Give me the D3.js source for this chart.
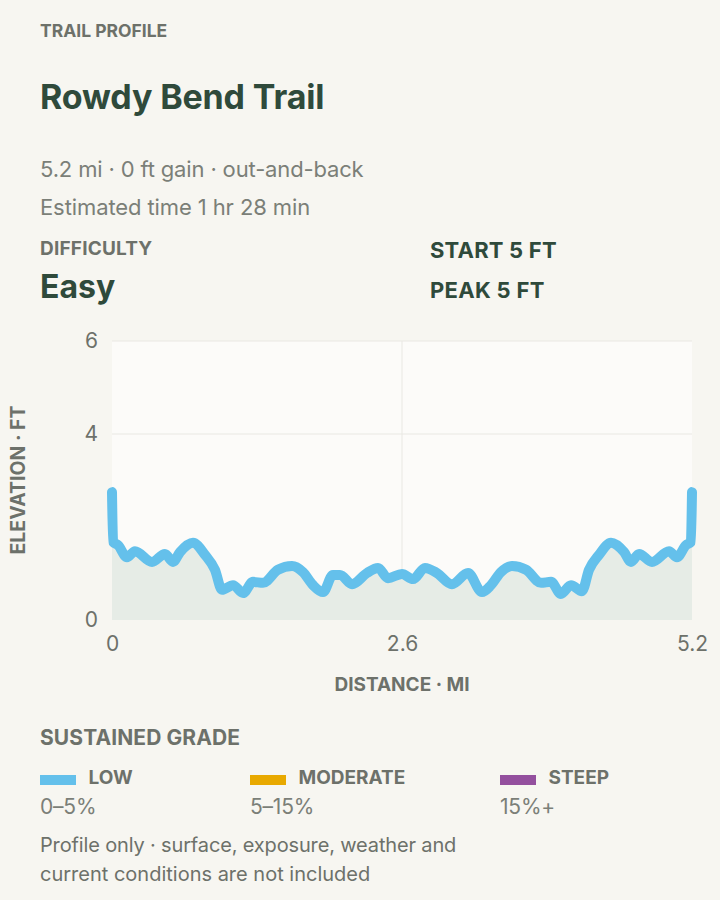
<!DOCTYPE html>
<html><head><meta charset="utf-8">
<script src="https://cdn.jsdelivr.net/npm/d3@7"></script>
<style>
html,body{margin:0;padding:0;background:#f7f6f1;}
svg{display:block;font-family:Inter,"Noto Sans",sans-serif;}
</style></head>
<body><svg id="c" width="720" height="900"></svg>
<script>
// Data
const distanceMi = [0,0.01,0.054,0.134,0.206,0.359,0.475,0.547,0.61,0.726,0.834,0.923,0.986,1.085,1.175,1.264,1.354,1.488,1.614,1.712,1.802,1.892,1.981,2.044,2.152,2.286,2.385,2.474,2.6,2.699,2.806,2.914,3.048,3.192,3.317,3.398,3.487,3.586,3.712,3.846,3.936,4.025,4.115,4.213,4.277,4.366,4.474,4.591,4.653,4.725,4.841,4.994,5.065,5.146,5.19,5.2];
const elevationFt = [2.75,1.68,1.61,1.35,1.48,1.25,1.42,1.25,1.46,1.66,1.40,1.08,0.65,0.75,0.58,0.82,0.80,1.08,1.16,1.03,0.75,0.60,0.97,0.97,0.77,1.01,1.12,0.90,0.99,0.88,1.12,1.01,0.77,1.01,0.60,0.75,1.03,1.16,1.08,0.80,0.82,0.56,0.75,0.62,1.08,1.40,1.66,1.46,1.25,1.42,1.25,1.48,1.35,1.61,1.68,2.75];
const xTicks = [0, 2.6, 5.2];
const xTickLabels = ["0", "2.6", "5.2"];
const yTicks = [0, 4, 6];
const gradeLabels = ["LOW", "MODERATE", "STEEP"];
const gradeRanges = ["0–5%", "5–15%", "15%+"];
const gradeColors = ["#64c0eb", "#e8a900", "#94509e"];

const svg = d3.select("#c");
const dark = "#2f4a3b", muted = "#6d716a", soft = "#7b7f78";

function txt(x, y, s, size, weight, fill, ls) {
  return svg.append("text").attr("x",x).attr("y",y).attr("fill",fill)
    .attr("font-weight",weight).attr("font-size",size).attr("letter-spacing",ls).text(s);
}

// Header
txt(40, 37, "TRAIL PROFILE", 17.5, 700, muted, 0);
txt(40, 109, "Rowdy Bend Trail", 34, 700, dark, -0.15);
txt(40, 177, "5.2 mi · 0 ft gain · out-and-back", 22, 400, soft, -0.15);
txt(40, 215, "Estimated time 1 hr 28 min", 22, 400, soft, -0.1);
txt(40, 255, "DIFFICULTY", 19, 700, muted, 0.2);
txt(40, 298, "Easy", 32, 700, dark, 0);
txt(430, 258, "START 5 FT", 22, 700, dark, 0.2);
txt(430, 298, "PEAK 5 FT", 22, 700, dark, 0.3);

// Chart
const x = d3.scaleLinear().domain([0,5.2]).range([112,692]);
const y = d3.scaleLinear().domain([0,6]).range([620,341]);
svg.append("rect").attr("x",x(0)).attr("y",y(6)).attr("width",x(5.2)-x(0)).attr("height",y(0)-y(6)).attr("fill","#fcfbf9");

const g = svg.append("g");
g.selectAll(".hg").data(yTicks.filter(d=>d>0)).join("line")
  .attr("x1",x(0)).attr("x2",x(5.2)).attr("y1",d=>y(d)).attr("y2",d=>y(d))
  .attr("stroke","#e9e8e3").attr("stroke-width",1);
g.selectAll(".vg").data(xTicks.filter(d=>d>0 && d<5.2)).join("line")
  .attr("x1",d=>x(d)).attr("x2",d=>x(d)).attr("y1",y(6)).attr("y2",y(0))
  .attr("stroke","#e9e8e3").attr("stroke-width",1);

const pts = distanceMi.map((d,i)=>[d, elevationFt[i]]);
const area = d3.area().x(d=>x(d[0])).y0(y(0)).y1(d=>y(d[1])).curve(d3.curveMonotoneX);
const line = d3.line().x(d=>x(d[0])).y(d=>y(d[1])).curve(d3.curveMonotoneX);
g.append("path").attr("d",area(pts)).attr("fill","#e6ece6");
g.append("path").attr("d",line(pts)).attr("fill","none").attr("stroke","#64c0eb")
  .attr("stroke-width",10).attr("stroke-linecap","round").attr("stroke-linejoin","round");

// Axes
const yAxis = d3.axisLeft(y).tickValues(yTicks).tickSize(0).tickPadding(14).tickFormat(d3.format("d"));
const ya = svg.append("g").attr("transform",`translate(${x(0)},0)`).call(yAxis);
ya.select(".domain").remove();
ya.selectAll("text").attr("font-size",21).attr("fill",muted).attr("font-family","Inter,sans-serif");
const xAxis = d3.axisBottom(x).tickValues(xTicks).tickSize(0).tickPadding(16).tickFormat((d,i)=>xTickLabels[i]);
const xa = svg.append("g").attr("transform",`translate(0,${y(0)})`).call(xAxis);
xa.select(".domain").remove();
xa.selectAll("text").attr("font-size",21).attr("fill",muted).attr("font-family","Inter,sans-serif");

svg.append("text").attr("transform","translate(25,480) rotate(-90)").attr("text-anchor","middle")
  .attr("fill",muted).attr("font-weight",700).attr("font-size",19.5).attr("letter-spacing","0").text("ELEVATION · FT");
svg.append("text").attr("x",402).attr("y",691).attr("text-anchor","middle")
  .attr("fill",muted).attr("font-weight",700).attr("font-size",19).attr("letter-spacing","0").text("DISTANCE · MI");

// Legend
txt(40, 745, "SUSTAINED GRADE", 21, 700, muted, 0.1);
const legX = [40, 250, 500];
const lg = svg.selectAll(".lg").data(gradeLabels).join("g").attr("transform",(d,i)=>`translate(${legX[i]},0)`);
lg.append("rect").attr("x",0).attr("y",775).attr("width",36).attr("height",10).attr("fill",(d,i)=>gradeColors[i]);
lg.append("text").attr("x",48.5).attr("y",784).attr("fill",muted).attr("font-weight",700).attr("font-size",19).text(d=>d);
lg.append("text").attr("x",0).attr("y",814).attr("fill",soft).attr("font-size",21).attr("letter-spacing","-0.2").text((d,i)=>gradeRanges[i]);

txt(40, 852, "Profile only · surface, exposure, weather and", 20, 400, muted, -0.15);
txt(40, 881, "current conditions are not included", 20, 400, muted, 0);
</script></body></html>
